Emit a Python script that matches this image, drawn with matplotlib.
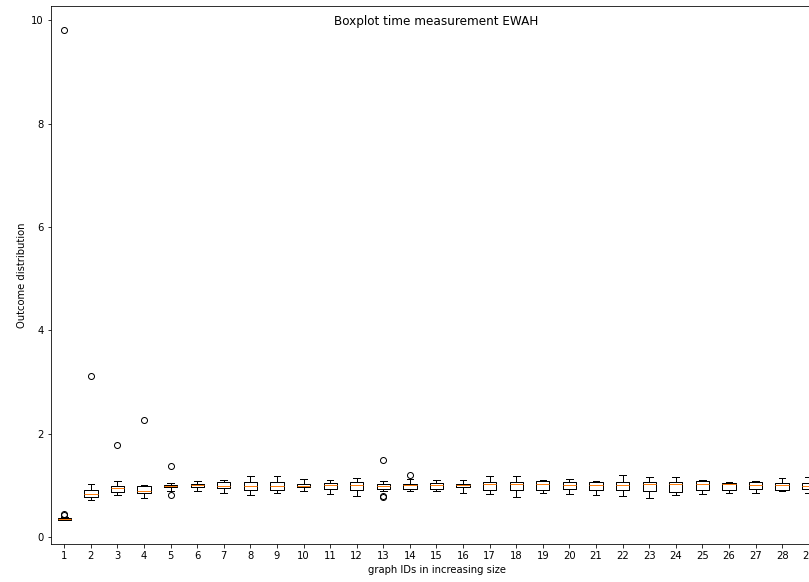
import matplotlib
matplotlib.use("Agg")
import matplotlib.pyplot as plt

# Box statistics (graph IDs 1..29)
graph_ids = list(range(1, 30))
medians = [0.35, 0.84, 0.95, 0.90, 0.98, 1.01, 0.98, 0.98, 0.99, 0.99,
           1.01, 1.00, 0.99, 1.00, 1.00, 1.01, 1.03, 1.03, 1.03, 1.01,
           1.00, 1.00, 1.03, 1.03, 1.02, 1.03, 1.00, 1.00, 0.98]
q1 = [0.34, 0.77, 0.88, 0.86, 0.96, 0.96, 0.95, 0.92, 0.92, 0.96,
      0.94, 0.92, 0.94, 0.94, 0.94, 0.96, 0.92, 0.92, 0.92, 0.94,
      0.92, 0.92, 0.90, 0.88, 0.92, 0.92, 0.94, 0.92, 0.94]
q3 = [0.37, 0.92, 0.99, 0.98, 1.01, 1.03, 1.06, 1.06, 1.07, 1.03,
      1.05, 1.06, 1.03, 1.03, 1.04, 1.03, 1.06, 1.07, 1.09, 1.07,
      1.07, 1.07, 1.07, 1.07, 1.08, 1.04, 1.06, 1.04, 1.04]
whisker_low = [0.34, 0.71, 0.82, 0.76, 0.90, 0.90, 0.86, 0.82, 0.86, 0.89,
               0.84, 0.79, 0.90, 0.90, 0.90, 0.86, 0.84, 0.77, 0.86, 0.84,
               0.82, 0.79, 0.75, 0.82, 0.84, 0.86, 0.86, 0.89, 0.86]
whisker_high = [0.38, 1.03, 1.08, 1.01, 1.05, 1.08, 1.10, 1.19, 1.19, 1.12,
                1.10, 1.15, 1.08, 1.12, 1.10, 1.10, 1.19, 1.19, 1.10, 1.12,
                1.08, 1.21, 1.17, 1.17, 1.10, 1.06, 1.08, 1.14, 1.17]
outliers = [[0.42, 0.45, 9.80], [3.11], [1.79], [2.26], [0.81, 1.38],
            [], [], [], [], [], [], [], [0.77, 0.79, 1.50], [1.20], [],
            [], [], [], [], [], [], [], [], [], [], [], [], [], []]

stats = []
for i in range(len(graph_ids)):
    stats.append({
        "label": str(graph_ids[i]),
        "med": medians[i],
        "q1": q1[i],
        "q3": q3[i],
        "whislo": whisker_low[i],
        "whishi": whisker_high[i],
        "fliers": outliers[i],
    })

fig = plt.figure(figsize=(809 / 72, 582 / 72), dpi=72)
# axes runs past the right edge, as in the (cropped) reference
ax = fig.add_axes([51 / 809, 38 / 582, 771 / 809, 538 / 582])
ax.bxp(stats, positions=graph_ids)

ax.set_title("Boxplot time measurement EWAH", fontsize=12, y=0.953)
ax.set_xlabel("graph IDs in increasing size")
ax.set_ylabel("Outcome distribution")

fig.savefig("out.png", dpi=72)
